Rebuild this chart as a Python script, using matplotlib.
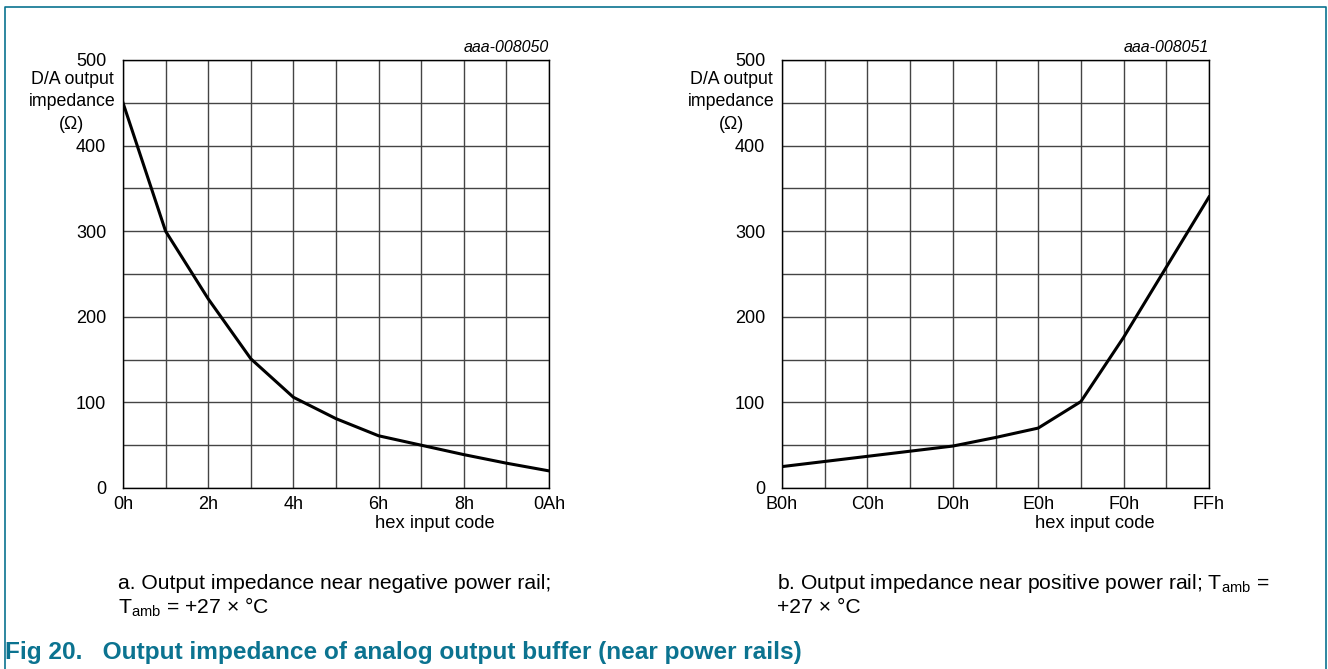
import numpy as np
from matplotlib import pyplot as plt

plt.rcParams['font.family'] = ['Liberation Sans', 'DejaVu Sans']
plt.rcParams['mathtext.fontset'] = 'custom'
plt.rcParams['mathtext.rm'] = 'Liberation Sans'

# data
x_idx = np.arange(11)
neg_imp = [450, 300, 221, 151, 106, 81, 61, 50, 39, 29, 20]
pos_imp = [25, 31, 37, 43, 49, 59, 70, 101, 176, 258, 340]
neg_ticks = ['0h', '2h', '4h', '6h', '8h', '0Ah']
pos_ticks = ['B0h', 'C0h', 'D0h', 'E0h', 'F0h', 'FFh']
yticks = [0, 100, 200, 300, 400, 500]

W, H = 1328, 669
teal = '#0b7390'

fig = plt.figure(figsize=(W/100, H/100), dpi=100)

def px(x, y):
    return x/W, 1 - y/H

def make_ax(left_px, right_px, vals, ticklabels, code, xlab_x):
    l, t = px(left_px, 60)
    r, b = px(right_px, 488)
    ax = fig.add_axes([l, b, r-l, t-b])
    ax.plot(x_idx, vals, color='black', lw=2.2, solid_joinstyle='miter', zorder=3)
    ax.set_xlim(0, 10)
    ax.set_ylim(0, 500)
    ax.set_xticks(np.arange(0, 11, 2))
    ax.set_xticklabels(ticklabels)
    ax.set_xticks(np.arange(11), minor=True)
    ax.set_yticks(yticks)
    ax.set_yticks(np.arange(0, 501, 50), minor=True)
    ax.grid(which='both', color='#444444', lw=1)
    ax.tick_params(which='both', length=0, labelsize=13)
    ax.tick_params(axis='y', pad=12)
    ax.tick_params(axis='x', pad=6)
    for s in ax.spines.values():
        s.set_color('black')
        s.set_linewidth(1)
    xx, yy = px(right_px, 47)
    fig.text(xx, yy, code, style='italic', fontsize=11.5, ha='right', va='center')
    xx, yy = px(left_px - 51, 102)
    fig.text(xx, yy, 'D/A output\nimpedance\n(\u03a9)', fontsize=12.8, ha='center', va='center',
             multialignment='center', linespacing=1.45)
    xx, yy = px(xlab_x, 524)
    fig.text(xx, yy, 'hex input code', fontsize=13.2, ha='center', va='center')
    return ax

make_ax(123, 549, neg_imp, neg_ticks, 'aaa-008050', 435)
make_ax(782, 1209, pos_imp, pos_ticks, 'aaa-008051', 1095)

tamb = r'T$_{\mathregular{amb}}$'
captions = [
    (118, 'a. Output impedance near negative power rail;', tamb + ' = +27 \u00d7 \u00b0C'),
    (777, 'b. Output impedance near positive power rail; ' + tamb + ' =', '+27 \u00d7 \u00b0C'),
]
for cx, line1, line2 in captions:
    xx, yy = px(cx, 589)
    fig.text(xx, yy, line1, fontsize=15.2, ha='left', va='baseline')
    xx, yy = px(cx, 613)
    fig.text(xx, yy, line2, fontsize=15.2, ha='left', va='baseline')

xx, yy = px(5, 659)
fig.text(xx, yy, 'Fig 20.   Output impedance of analog output buffer (near power rails)',
         fontsize=17.6, fontweight='bold', color=teal, ha='left', va='baseline')

# frame
x0, y0 = px(5, 7)
x1, y1 = px(1326, 669)
fig.add_artist(plt.Line2D([x0, x0, x1, x1], [0, y0, y0, 0], color=teal, lw=1.2))

fig.savefig('out.png', dpi=100)
